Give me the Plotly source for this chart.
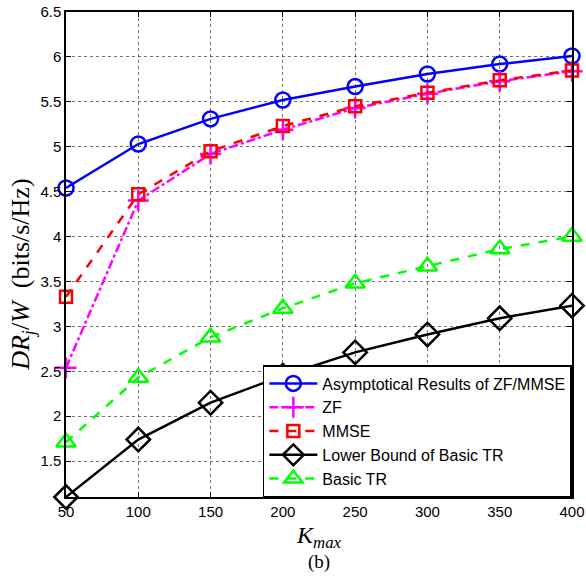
import plotly.graph_objects as go

k_max = [50, 100, 150, 200, 250, 300, 350, 400]
asym = [4.54, 5.03, 5.31, 5.52, 5.67, 5.81, 5.92, 6.01]
zf = [2.54, 4.40, 4.92, 5.19, 5.43, 5.59, 5.73, 5.84]
mmse = [3.33, 4.47, 4.95, 5.23, 5.45, 5.60, 5.74, 5.85]
lower_tr = [1.10, 1.74, 2.15, 2.45, 2.71, 2.91, 3.09, 3.23]
basic_tr = [1.71, 2.43, 2.88, 3.20, 3.48, 3.67, 3.86, 4.00]

x_ticks = [50, 100, 150, 200, 250, 300, 350, 400]
y_ticks = [1.5, 2, 2.5, 3, 3.5, 4, 4.5, 5, 5.5, 6, 6.5]

fig = go.Figure()

series = [
    ("Asymptotical Results of ZF/MMSE", asym, "#0000ff", "solid", "circle-open", 15),
    ("ZF", zf, "#ff00ff", "dashdot", "cross-thin-open", 15),
    ("MMSE", mmse, "#ff0000", "dash", "square-open", 12),
    ("Lower Bound of Basic TR", lower_tr, "#000000", "solid", "diamond-open", 18),
    ("Basic TR", basic_tr, "#00ff00", "dash", "triangle-up-open", 17),
]

for name, vals, color, dash, sym, size in series:
    fig.add_trace(go.Scatter(
        x=k_max, y=vals, name=name, mode="lines+markers",
        line=dict(color=color, width=2.5, dash=dash),
        marker=dict(symbol=sym, size=size, color=color,
                    line=dict(color=color, width=2.5)),
        cliponaxis=False,
    ))

axis_common = dict(
    showline=True, linecolor="black", linewidth=1.5, mirror="ticks",
    ticks="inside", ticklen=5, tickcolor="black",
    showgrid=True, gridcolor="rgba(0,0,0,0.55)", gridwidth=1, griddash="dot",
    zeroline=False, automargin=False, ticklabeloverflow="allow",
    tickfont=dict(family="Liberation Sans, Arial", size=15, color="black"),
)

fig.update_xaxes(range=[50, 400], tickvals=x_ticks, **axis_common)
fig.update_yaxes(range=[1.1, 6.5], tickvals=y_ticks, **axis_common)

serif = "Liberation Serif, Times New Roman"
fig.add_annotation(text="<i>K</i><sub><i>max</i></sub>", xref="paper", yref="paper",
                   x=0.5, y=-0.082, xanchor="center", yanchor="middle", showarrow=False,
                   font=dict(family=serif, size=24, color="black"))
fig.add_annotation(text="<i>DR</i><sub><i>j</i></sub>/<i>W</i>\u00a0\u00a0(bits/s/Hz)",
                   xref="paper", yref="paper", x=-0.087, y=0.458, textangle=-90,
                   xanchor="center", yanchor="middle", showarrow=False,
                   font=dict(family=serif, size=26, color="black"))
fig.add_annotation(text="(b)", xref="paper", yref="paper", x=0.5, y=-0.134,
                   xanchor="center", yanchor="middle", showarrow=False,
                   font=dict(family=serif, size=19, color="black"))

fig.update_layout(
    width=586, height=577,
    margin=dict(l=66, r=14, t=12, b=80),
    paper_bgcolor="white", plot_bgcolor="white",
    legend=dict(x=0.389, y=0, xanchor="left", yanchor="bottom",
                bgcolor="white", bordercolor="black", borderwidth=1.5,
                font=dict(family="Liberation Sans, Arial", size=16, color="black"),
                itemwidth=48, tracegroupgap=0),
    showlegend=True,
)

fig.write_html("out.html", config={"displayModeBar": False},
               post_script="document.body.style.margin='0';document.body.style.overflow='hidden';")
